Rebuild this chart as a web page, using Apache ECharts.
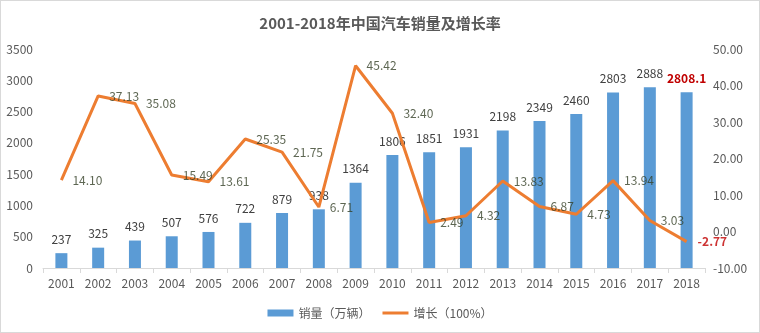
<!DOCTYPE html>
<html><head><meta charset="utf-8">
<script src="https://cdn.jsdelivr.net/npm/echarts@6/dist/echarts.min.js"></script>
<style>
html,body{margin:0;padding:0;background:#fff;}
#c{width:758px;height:331px;border:1px solid #d9d9d9;}
</style></head>
<body><div id="c"></div>
<script>
const years = ['2001','2002','2003','2004','2005','2006','2007','2008','2009','2010','2011','2012','2013','2014','2015','2016','2017','2018'];
const sales = [237,325,439,507,576,722,879,938,1364,1806,1851,1931,2198,2349,2460,2803,2888,2808.1];
const growth = [14.10,37.13,35.08,15.49,13.61,25.35,21.75,6.71,45.42,32.40,2.49,4.32,13.83,6.87,4.73,13.94,3.03,-2.77];
const titleText = '2001-2018年中国汽车销量及增长率';
const salesName = '销量（万辆）';
const growthName = '增长（100%）';

const font = '"Noto Sans CJK SC", "Noto Sans", sans-serif';
const last = years.length - 1;
const chart = echarts.init(document.getElementById('c'));
chart.setOption({
  backgroundColor: '#fff',
  animation: false,
  textStyle: {fontFamily: font},
  title: {text: titleText, left: 'center', top: 10,
    textStyle: {fontSize: 15, fontWeight: 'bold', color: '#595959', fontFamily: font}},
  grid: {left: 42, right: 54, top: 48, bottom: 64},
  legend: {bottom: 8, left: 'center', itemWidth: 26, itemHeight: 7, itemGap: 12,
    textStyle: {color: '#595959', fontSize: 12},
    data: [{name: salesName, icon: 'rect'},
           {name: growthName, icon: 'path://M0,0H26V3H0Z', itemStyle: {color: '#ED7D31'}}]},
  xAxis: {type: 'category', data: years, boundaryGap: true,
    axisLine: {lineStyle: {color: '#d9d9d9'}},
    axisTick: {show: true, lineStyle: {color: '#d9d9d9'}, length: 5},
    axisLabel: {color: '#595959', fontSize: 12, margin: 9}},
  yAxis: [
    {type: 'value', min: 0, max: 3500, interval: 500,
     axisLine: {show: false}, axisTick: {show: false}, splitLine: {show: false},
     axisLabel: {color: '#595959', fontSize: 12, margin: 10, formatter: v => String(v)}},
    {type: 'value', min: -10, max: 50, interval: 10, position: 'right',
     axisLine: {show: false}, axisTick: {show: false}, splitLine: {show: false},
     axisLabel: {color: '#595959', fontSize: 12, margin: 8, formatter: v => v.toFixed(2)}}
  ],
  series: [
    {name: salesName, type: 'bar', yAxisIndex: 0, barWidth: 12,
     itemStyle: {color: '#5B9BD5'},
     data: sales.map((v, i) => i === last ? {value: v, label: {color: '#C00000', fontWeight: 'bold'}} : v),
     label: {show: true, position: 'top', distance: 8, color: '#404040', fontSize: 12}},
    {name: growthName, type: 'line', yAxisIndex: 1, symbol: 'none',
     lineStyle: {color: '#ED7D31', width: 3}, itemStyle: {color: '#ED7D31'},
     data: growth},
    {name: 'growthLabels', type: 'scatter', yAxisIndex: 1, symbolSize: 2, z: 5,
     itemStyle: {color: 'rgba(0,0,0,0)'},
     data: growth.map((v, i) => i === last ? {value: v, label: {color: '#C00000', fontWeight: 'bold'}} : v),
     label: {show: true, position: 'right', distance: 10, color: '#344027', fontSize: 12,
       formatter: p => Number(p.value).toFixed(2)}}
  ]
});
</script></body></html>
